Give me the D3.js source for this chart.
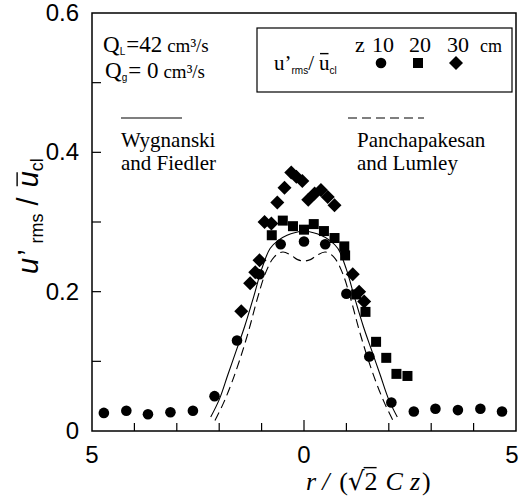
<!DOCTYPE html>
<html>
<head>
<meta charset="utf-8">
<script src="https://cdn.jsdelivr.net/npm/d3@7"></script>
<style>
  body { margin: 0; background: #fff; }
  svg { display: block; }
  text { white-space: pre; }
</style>
</head>
<body>
<svg id="chart" width="521" height="498"></svg>
<script>
// data
const z10X = [-4.72, -4.19, -3.68, -3.15, -2.62, -2.11, -1.58, -1.05, -0.55, 0.0, 0.5, 1.0, 1.54, 2.06, 2.59, 3.10, 3.63, 4.16, 4.67];
const z10Y = [0.026, 0.029, 0.024, 0.027, 0.029, 0.050, 0.130, 0.225, 0.268, 0.272, 0.268, 0.197, 0.107, 0.041, 0.028, 0.032, 0.030, 0.032, 0.028];

const z20X = [-0.76, -0.50, -0.26, 0.0, 0.23, 0.47, 0.72, 0.95, 0.97, 1.23, 1.45, 1.70, 1.94, 2.18, 2.44];
const z20Y = [0.281, 0.302, 0.294, 0.289, 0.297, 0.287, 0.277, 0.265, 0.252, 0.196, 0.171, 0.128, 0.105, 0.082, 0.079];

const z30X = [-1.48, -1.27, -1.15, -1.05, -0.93, -0.77, -0.63, -0.46, -0.30, -0.18, -0.04, 0.10, 0.25, 0.40, 0.56, 0.72, 1.15, 1.30, 1.42];
const z30Y = [0.172, 0.212, 0.228, 0.245, 0.300, 0.298, 0.328, 0.349, 0.371, 0.365, 0.359, 0.332, 0.341, 0.346, 0.336, 0.324, 0.225, 0.200, 0.186];

// Wygnanski and Fiedler (solid)
const wfX = [-2.2, -2.0, -1.8, -1.6, -1.4, -1.2, -1.0, -0.8, -0.6, -0.4, -0.2, 0, 0.2, 0.4, 0.6, 0.8, 1.0, 1.2, 1.4, 1.6, 1.8, 2.0, 2.2];
const wfY = [0.02, 0.045, 0.08, 0.115, 0.15, 0.19, 0.232, 0.262, 0.274, 0.281, 0.285, 0.287, 0.285, 0.281, 0.274, 0.262, 0.232, 0.19, 0.15, 0.115, 0.08, 0.045, 0.02];

// Panchapakesan and Lumley (dashed)
const plX = [-2.1, -1.9, -1.7, -1.5, -1.3, -1.1, -0.9, -0.7, -0.5, -0.3, -0.15, 0, 0.15, 0.3, 0.5, 0.7, 0.9, 1.1, 1.3, 1.5, 1.7, 1.9, 2.1];
const plY = [0.015, 0.04, 0.07, 0.105, 0.145, 0.19, 0.228, 0.25, 0.257, 0.252, 0.246, 0.244, 0.246, 0.252, 0.257, 0.25, 0.228, 0.19, 0.145, 0.105, 0.07, 0.04, 0.015];

const zLabels = ["10", "20", "30"];
const xTickVals = [-5, -4, -3, -2, -1, 0, 1, 2, 3, 4, 5];
const xTickLabels = [[-5, "5"], [0, "0"], [5, "5"]];
const yTickVals = [0.1, 0.2, 0.3, 0.4, 0.5];
const yTickLabels = [[0, "0"], [0.2, "0.2"], [0.4, "0.4"], [0.6, "0.6"]];

const svg = d3.select("#chart");
const pLeft = 92, pRight = 516, pTop = 13, pBottom = 431;

const x = d3.scaleLinear().domain([-5, 5]).range([pLeft, pRight]);
const y = d3.scaleLinear().domain([0, 0.6]).range([pBottom, pTop]);

const serif = "'Liberation Serif', 'DejaVu Serif', serif";
const sans = "'Liberation Sans', Arial, sans-serif";

// ticks (inward)
svg.append("g").selectAll("line").data(xTickVals.slice(1, -1)).enter().append("line")
  .attr("x1", d => x(d)).attr("x2", d => x(d))
  .attr("y1", pBottom).attr("y2", d => d === 0 ? pBottom - 11 : pBottom - 8)
  .attr("stroke", "#000").attr("stroke-width", 1.2);
svg.append("g").selectAll("line").data(yTickVals).enter().append("line")
  .attr("x1", pLeft).attr("x2", pLeft + 9)
  .attr("y1", d => y(d)).attr("y2", d => y(d))
  .attr("stroke", "#000").attr("stroke-width", 1.2);

// frame
svg.append("rect").attr("x", pLeft).attr("y", pTop)
  .attr("width", pRight - pLeft).attr("height", pBottom - pTop)
  .attr("fill", "none").attr("stroke", "#000").attr("stroke-width", 1.5);

// tick labels (last one nudged in so it stays on the page)
svg.append("g").selectAll("text").data(xTickLabels).enter().append("text")
  .attr("x", d => Math.min(x(d[0]), 512)).attr("y", 463)
  .attr("text-anchor", "middle").attr("font-family", sans).attr("font-size", 24)
  .text(d => d[1]);
svg.append("g").selectAll("text").data(yTickLabels).enter().append("text")
  .attr("x", 79).attr("y", d => y(d[0]) + 8)
  .attr("text-anchor", "end").attr("font-family", sans).attr("font-size", 24)
  .text(d => d[1]);

// helper: lay out pieces of text one after the other
function rich(g, parts, x0, y0) {
  let cx = x0;
  parts.forEach(p => {
    const t = g.append("text")
      .attr("x", cx).attr("y", y0 + (p.dy || 0))
      .attr("font-family", p.family).attr("font-size", p.size)
      .attr("font-style", p.italic ? "italic" : "normal")
      .text(p.t);
    const w = t.node().getComputedTextLength();
    if (p.over) {
      const oy = y0 - p.size * (p.overY || 0.78);
      g.append("line").attr("x1", cx + (p.overL || 1)).attr("x2", cx + w - 1)
        .attr("y1", oy).attr("y2", oy)
        .attr("stroke", "#000").attr("stroke-width", 1.4);
    }
    cx += w + (p.gap || 0);
  });
  return cx - x0;
}

// curves
const line = d3.line().x(d => x(d[0])).y(d => y(d[1])).curve(d3.curveCatmullRom);
svg.append("path").datum(d3.zip(wfX, wfY)).attr("d", line)
  .attr("fill", "none").attr("stroke", "#000").attr("stroke-width", 1.1);
svg.append("path").datum(d3.zip(plX, plY)).attr("d", line)
  .attr("fill", "none").attr("stroke", "#000").attr("stroke-width", 1.1)
  .attr("stroke-dasharray", "9,5");

// markers
function diamond(cx, cy, r) {
  return `M${cx},${cy - r}L${cx + r},${cy}L${cx},${cy + r}L${cx - r},${cy}Z`;
}
svg.append("g").selectAll("path").data(d3.zip(z30X, z30Y)).enter().append("path")
  .attr("d", d => diamond(x(d[0]), y(d[1]), 7)).attr("fill", "#000");
svg.append("g").selectAll("rect").data(d3.zip(z20X, z20Y)).enter().append("rect")
  .attr("x", d => x(d[0]) - 5).attr("y", d => y(d[1]) - 5)
  .attr("width", 10).attr("height", 10).attr("fill", "#000");
svg.append("g").selectAll("circle").data(d3.zip(z10X, z10Y)).enter().append("circle")
  .attr("cx", d => x(d[0])).attr("cy", d => y(d[1])).attr("r", 5.3).attr("fill", "#000");

// flow conditions
const q = svg.append("g");
rich(q, [
  {t: "Q", size: 23, family: serif},
  {t: "L", size: 10, family: sans, dy: 3, gap: 1},
  {t: "=42", size: 23, family: serif, gap: 5},
  {t: "cm³/s", size: 19, family: serif}
], 103, 52);
rich(q, [
  {t: "Q", size: 23, family: serif},
  {t: "g", size: 10, family: sans, dy: 3, gap: 1},
  {t: "= 0", size: 23, family: serif, gap: 5},
  {t: "cm³/s", size: 19, family: serif}
], 105, 78);

// legend box
svg.append("rect").attr("x", 257).attr("y", 28).attr("width", 255).attr("height", 64)
  .attr("fill", "#fff").attr("stroke", "#000").attr("stroke-width", 1.2);
const lg = svg.append("g");
const legX = [381, 418, 456];
lg.append("text").attr("x", 355).attr("y", 52).attr("font-family", serif).attr("font-size", 22).text("z");
lg.selectAll("text.zl").data(zLabels).enter().append("text").attr("class", "zl")
  .attr("x", (d, i) => legX[i] + 2).attr("y", 52).attr("text-anchor", "middle")
  .attr("font-family", serif).attr("font-size", 22).text(d => d);
lg.append("text").attr("x", 480).attr("y", 52).attr("font-family", serif).attr("font-size", 18).text("cm");
rich(lg, [
  {t: "u’", size: 21, family: serif},
  {t: "rms", size: 10, family: sans, dy: 4},
  {t: "/", size: 21, family: serif, gap: 5},
  {t: "u", size: 21, family: serif, over: true},
  {t: "cl", size: 10, family: sans, dy: 4}
], 274, 70);
lg.append("circle").attr("cx", legX[0]).attr("cy", 63).attr("r", 5.3).attr("fill", "#000");
lg.append("rect").attr("x", legX[1] - 5).attr("y", 58).attr("width", 10).attr("height", 10).attr("fill", "#000");
lg.append("path").attr("d", diamond(legX[2], 63, 7)).attr("fill", "#000");

// model curve legends
svg.append("line").attr("x1", 121).attr("x2", 182).attr("y1", 118).attr("y2", 118)
  .attr("stroke", "#000").attr("stroke-width", 1.1);
svg.append("line").attr("x1", 348).attr("x2", 424).attr("y1", 118).attr("y2", 118)
  .attr("stroke", "#000").attr("stroke-width", 1.1).attr("stroke-dasharray", "9,5");
const txt = [["Wygnanski", 121, 147], ["and Fiedler", 121, 170], ["Panchapakesan", 357, 147], ["and Lumley", 357, 170]];
svg.append("g").selectAll("text").data(txt).enter().append("text")
  .attr("x", d => d[1]).attr("y", d => d[2])
  .attr("font-family", serif).attr("font-size", 21).text(d => d[0]);

// y axis title (rotated)
const yt = svg.append("g").attr("transform", "translate(38,274) rotate(-90)");
rich(yt, [
  {t: "u", size: 29, family: sans, italic: true, gap: 2},
  {t: "’", size: 29, family: sans, gap: 6},
  {t: "rms", size: 18, family: sans, dy: 5, gap: 8},
  {t: "/", size: 29, family: sans, gap: 10},
  {t: "u", size: 29, family: sans, italic: true, over: true, overY: 0.72},
  {t: "cl", size: 18, family: sans, dy: 5}
], 0, 0);

// x axis title
const xt = svg.append("g");
rich(xt, [
  {t: "r", size: 26, family: serif, italic: true, gap: 6},
  {t: "/", size: 26, family: serif, italic: true, gap: 10},
  {t: "(", size: 26, family: serif},
  {t: "√", size: 26, family: "'DejaVu Serif', serif"},
  {t: "2", size: 26, family: serif, over: true, overL: -1, overY: 0.86, gap: 8},
  {t: "C", size: 26, family: serif, italic: true, gap: 7},
  {t: "z", size: 26, family: serif, italic: true, gap: 2},
  {t: ")", size: 26, family: serif}
], 306, 490);
</script>
</body>
</html>
